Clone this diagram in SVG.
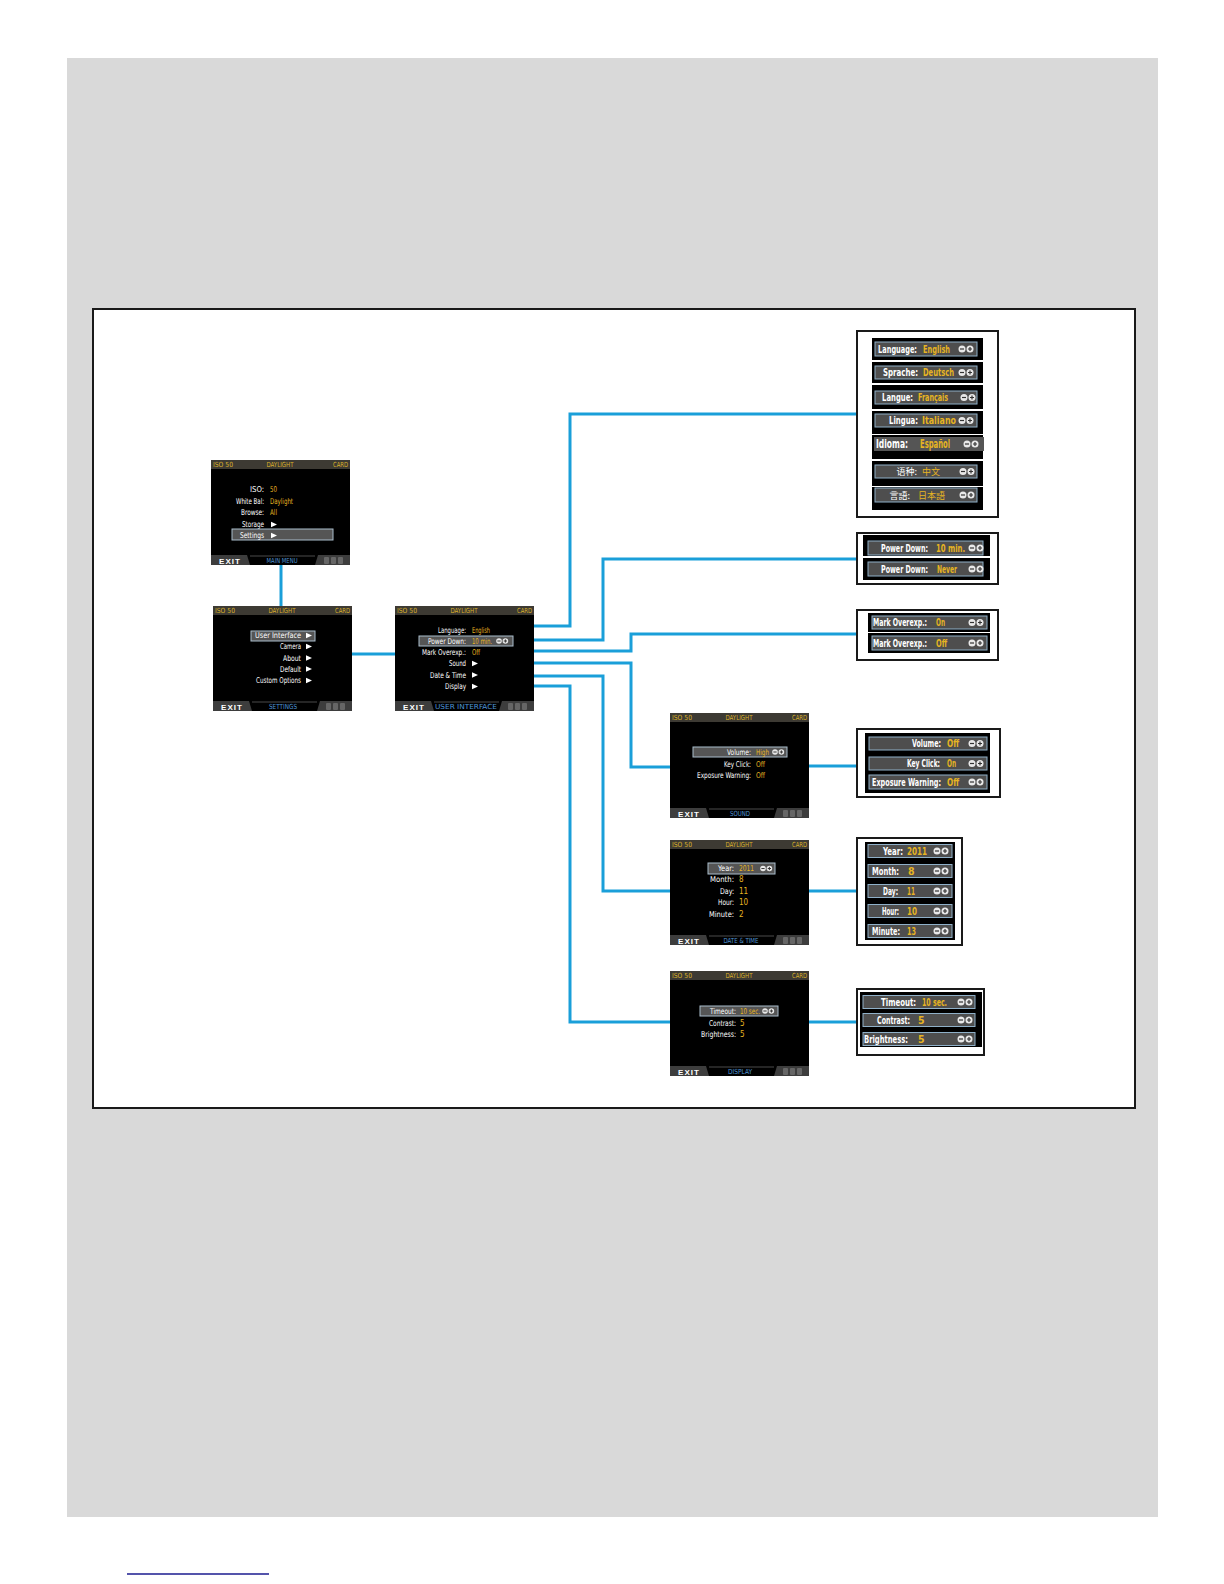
<svg xmlns="http://www.w3.org/2000/svg" xmlns:xlink="http://www.w3.org/1999/xlink" width="1224" height="1584" viewBox="0 0 1224 1584">
<style>
text{font-family:"Liberation Sans Narrow","DejaVu Sans Condensed","Liberation Sans",sans-serif;font-stretch:condensed}
.hd{font-size:7px;fill:#d9b12a}
.hm{text-anchor:middle}
.he{text-anchor:end}
.lb{font-size:8px;fill:#fff;text-anchor:end}
.vl{font-size:8px;fill:#e6b422}
.ft{font-size:7px;fill:#4f95d6;text-anchor:middle}
.ex{font-family:"Liberation Sans",sans-serif;font-stretch:normal;font-size:8px;font-weight:bold;fill:#fff;text-anchor:middle;letter-spacing:1px}
.hl{fill:#555;stroke:#aabdcc;stroke-width:1}
.pl{font-size:10.5px;fill:#fff;text-anchor:end;font-weight:bold}
.pv{font-size:10.5px;fill:#e6b422;font-weight:bold}
.cjk{font-family:"Noto Sans CJK SC","Noto Sans CJK JP",sans-serif;font-size:9px;font-weight:normal}
.jp{font-family:"Noto Sans CJK JP","Noto Sans CJK SC",sans-serif;font-size:9px;font-weight:normal}
.box{fill:#fff;stroke:#1a1a1a;stroke-width:2}
.band{fill:#000}
.bar{fill:#4e4e4e;stroke:#8fb0c8;stroke-width:1}
.conn{fill:none;stroke:#1a9fd9;stroke-width:3}
</style>
<defs>
<g id="chrome">
<rect width="139" height="105" fill="#000"/>
<rect width="139" height="9" fill="#3d3a33"/>
<path d="M0,95 H36 L39,105 H0 Z" fill="#3d3d3d"/>
<path d="M39,96 H104" stroke="#4a4a4a" stroke-width="1"/>
<path d="M104,105 L107,95 H139 V105 Z" fill="#3d3d3d"/>
<rect x="113" y="97" width="5" height="7" rx="1" fill="#666"/>
<rect x="120" y="97" width="5" height="7" rx="1" fill="#666"/>
<rect x="127" y="97" width="5" height="7" rx="1" fill="#666"/>
</g>
<g id="pm">
<circle cx="0" cy="0" r="3.5" fill="#e8e8e8"/>
<path d="M-2,0 H2" stroke="#333" stroke-width="1.2"/>
<circle cx="8" cy="0" r="3.5" fill="#e8e8e8"/>
<path d="M6,0 H10 M8,-2 V2" stroke="#333" stroke-width="1.2"/>
</g>
<path id="ar" d="M0,-2.8 L6,0 L0,2.8 Z" fill="#fff"/>
</defs>

<rect x="67" y="58" width="1091" height="1459" fill="#d9d9d9"/>
<rect x="93" y="309" width="1042" height="799" fill="#fff" stroke="#1a1a1a" stroke-width="2"/>
<line x1="127" y1="1574" x2="269" y2="1574" stroke="#1b1b8f" stroke-width="1.5"/>

<g id="connectors">
<path class="conn" d="M281,565 V606"/>
<path class="conn" d="M351,654 H395"/>
<path class="conn" d="M534,626 H570 V414 H857"/>
<path class="conn" d="M534,640 H603 V559 H857"/>
<path class="conn" d="M534,651 H631 V634 H857"/>
<path class="conn" d="M534,663 H631 V767 H670"/>
<path class="conn" d="M534,676 H603 V891 H670"/>
<path class="conn" d="M534,686 H570 V1022 H670"/>
<path class="conn" d="M803,766 H857"/>
<path class="conn" d="M803,891 H857"/>
<path class="conn" d="M803,1022 H857"/>
</g>

<g id="main-menu" transform="translate(211,460)">
<use href="#chrome"/>
<text class="hd" x="2" y="7.2" textLength="20" lengthAdjust="spacingAndGlyphs">ISO 50</text><text class="hd hm" x="69" y="7.2" textLength="27" lengthAdjust="spacingAndGlyphs">DAYLIGHT</text><text class="hd he" x="137" y="7.2" textLength="15" lengthAdjust="spacingAndGlyphs">CARD</text>
<text class="lb" transform="translate(53,32) scale(.75,1)" textLength="18.7" lengthAdjust="spacingAndGlyphs">ISO:</text><text class="vl" transform="translate(59,32) scale(.75,1)" textLength="9.3" lengthAdjust="spacingAndGlyphs">50</text>
<text class="lb" transform="translate(53,44) scale(.75,1)" textLength="37.3" lengthAdjust="spacingAndGlyphs">White Bal:</text><text class="vl" transform="translate(59,44) scale(.75,1)" textLength="30.7" lengthAdjust="spacingAndGlyphs">Daylight</text>
<text class="lb" transform="translate(53,55) scale(.75,1)" textLength="30.7" lengthAdjust="spacingAndGlyphs">Browse:</text><text class="vl" transform="translate(59,55) scale(.75,1)" textLength="9.3" lengthAdjust="spacingAndGlyphs">All</text>
<text class="lb" transform="translate(53,67) scale(.75,1)" textLength="29.3" lengthAdjust="spacingAndGlyphs">Storage</text><use href="#ar" x="60" y="64.5"/>
<rect class="hl" x="21" y="69" width="101" height="11"/>
<text class="lb" transform="translate(53,78) scale(.75,1)" textLength="32" lengthAdjust="spacingAndGlyphs">Settings</text><use href="#ar" x="60" y="75.5"/>
<text class="ex" x="19" y="103.5">EXIT</text><text class="ft" x="71" y="103" textLength="31" lengthAdjust="spacingAndGlyphs">MAIN MENU</text>
</g>

<g id="settings" transform="translate(213,606)">
<use href="#chrome"/>
<text class="hd" x="2" y="7.2" textLength="20" lengthAdjust="spacingAndGlyphs">ISO 50</text><text class="hd hm" x="69" y="7.2" textLength="27" lengthAdjust="spacingAndGlyphs">DAYLIGHT</text><text class="hd he" x="137" y="7.2" textLength="15" lengthAdjust="spacingAndGlyphs">CARD</text>
<rect class="hl" x="38" y="25" width="64" height="10"/>
<text class="lb" transform="translate(88,32) scale(.75,1)" textLength="61.3" lengthAdjust="spacingAndGlyphs">User Interface</text><use href="#ar" x="93" y="29.5"/>
<text class="lb" transform="translate(88,43) scale(.75,1)" textLength="28" lengthAdjust="spacingAndGlyphs">Camera</text><use href="#ar" x="93" y="40.5"/>
<text class="lb" transform="translate(88,54.5) scale(.75,1)" textLength="24" lengthAdjust="spacingAndGlyphs">About</text><use href="#ar" x="93" y="52"/>
<text class="lb" transform="translate(88,65.5) scale(.75,1)" textLength="28" lengthAdjust="spacingAndGlyphs">Default</text><use href="#ar" x="93" y="63"/>
<text class="lb" transform="translate(88,77) scale(.75,1)" textLength="60" lengthAdjust="spacingAndGlyphs">Custom Options</text><use href="#ar" x="93" y="74.5"/>
<text class="ex" x="19" y="103.5">EXIT</text><text class="ft" x="70" y="103" textLength="28" lengthAdjust="spacingAndGlyphs">SETTINGS</text>
</g>

<g id="user-interface" transform="translate(395,606)">
<use href="#chrome"/>
<text class="hd" x="2" y="7.2" textLength="20" lengthAdjust="spacingAndGlyphs">ISO 50</text><text class="hd hm" x="69" y="7.2" textLength="27" lengthAdjust="spacingAndGlyphs">DAYLIGHT</text><text class="hd he" x="137" y="7.2" textLength="15" lengthAdjust="spacingAndGlyphs">CARD</text>
<text class="lb" transform="translate(71,27) scale(.75,1)" textLength="37.3" lengthAdjust="spacingAndGlyphs">Language:</text><text class="vl" transform="translate(77,27) scale(.75,1)" textLength="24" lengthAdjust="spacingAndGlyphs">English</text>
<rect class="hl" x="24" y="30" width="94" height="10"/>
<text class="lb" transform="translate(71,38) scale(.75,1)" textLength="50.7" lengthAdjust="spacingAndGlyphs">Power Down:</text><text class="vl" transform="translate(77,38) scale(.75,1)" textLength="26.7" lengthAdjust="spacingAndGlyphs">10 min.</text>
<use href="#pm" transform="translate(104,35) scale(0.8)"/>
<text class="lb" transform="translate(71,49) scale(.75,1)" textLength="58.7" lengthAdjust="spacingAndGlyphs">Mark Overexp.:</text><text class="vl" transform="translate(77,49) scale(.75,1)" textLength="10.7" lengthAdjust="spacingAndGlyphs">Off</text>
<text class="lb" transform="translate(71,60) scale(.75,1)" textLength="22.7" lengthAdjust="spacingAndGlyphs">Sound</text><use href="#ar" x="77" y="57.5"/>
<text class="lb" transform="translate(71,71.5) scale(.75,1)" textLength="48" lengthAdjust="spacingAndGlyphs">Date &amp; Time</text><use href="#ar" x="77" y="69"/>
<text class="lb" transform="translate(71,83) scale(.75,1)" textLength="28" lengthAdjust="spacingAndGlyphs">Display</text><use href="#ar" x="77" y="80.5"/>
<text class="ex" x="19" y="103.5">EXIT</text><text class="ft" x="71" y="103" textLength="62" lengthAdjust="spacingAndGlyphs">USER INTERFACE</text>
</g>

<g id="sound" transform="translate(670,713)">
<use href="#chrome"/>
<text class="hd" x="2" y="7.2" textLength="20" lengthAdjust="spacingAndGlyphs">ISO 50</text><text class="hd hm" x="69" y="7.2" textLength="27" lengthAdjust="spacingAndGlyphs">DAYLIGHT</text><text class="hd he" x="137" y="7.2" textLength="15" lengthAdjust="spacingAndGlyphs">CARD</text>
<rect class="hl" x="23" y="34" width="94" height="10"/>
<text class="lb" transform="translate(81,42) scale(.75,1)" textLength="32" lengthAdjust="spacingAndGlyphs">Volume:</text><text class="vl" transform="translate(86,42) scale(.75,1)" textLength="17.3" lengthAdjust="spacingAndGlyphs">High</text>
<use href="#pm" transform="translate(105,39) scale(0.8)"/>
<text class="lb" transform="translate(81,54) scale(.75,1)" textLength="36" lengthAdjust="spacingAndGlyphs">Key Click:</text><text class="vl" transform="translate(86,54) scale(.75,1)" textLength="12" lengthAdjust="spacingAndGlyphs">Off</text>
<text class="lb" transform="translate(81,65) scale(.75,1)" textLength="72" lengthAdjust="spacingAndGlyphs">Exposure Warning:</text><text class="vl" transform="translate(86,65) scale(.75,1)" textLength="12" lengthAdjust="spacingAndGlyphs">Off</text>
<text class="ex" x="19" y="103.5">EXIT</text><text class="ft" x="70" y="103" textLength="20" lengthAdjust="spacingAndGlyphs">SOUND</text>
</g>

<g id="date-time" transform="translate(670,840)">
<use href="#chrome"/>
<text class="hd" x="2" y="7.2" textLength="20" lengthAdjust="spacingAndGlyphs">ISO 50</text><text class="hd hm" x="69" y="7.2" textLength="27" lengthAdjust="spacingAndGlyphs">DAYLIGHT</text><text class="hd he" x="137" y="7.2" textLength="15" lengthAdjust="spacingAndGlyphs">CARD</text>
<rect class="hl" x="38" y="23" width="67" height="11"/>
<text class="lb" transform="translate(64,31) scale(.75,1)" textLength="21.3" lengthAdjust="spacingAndGlyphs">Year:</text><text class="vl" transform="translate(69,31) scale(.75,1)" textLength="20" lengthAdjust="spacingAndGlyphs">2011</text>
<use href="#pm" transform="translate(93,28.5) scale(0.8)"/>
<text class="lb" transform="translate(64,42) scale(.75,1)" textLength="32" lengthAdjust="spacingAndGlyphs">Month:</text><text class="vl" x="69" y="42">8</text>
<text class="lb" transform="translate(64,54) scale(.75,1)" textLength="18.7" lengthAdjust="spacingAndGlyphs">Day:</text><text class="vl" x="69" y="54">11</text>
<text class="lb" transform="translate(64,65) scale(.75,1)" textLength="21.3" lengthAdjust="spacingAndGlyphs">Hour:</text><text class="vl" x="69" y="65">10</text>
<text class="lb" transform="translate(64,77) scale(.75,1)" textLength="33.3" lengthAdjust="spacingAndGlyphs">Minute:</text><text class="vl" x="69" y="77">2</text>
<text class="ex" x="19" y="103.5">EXIT</text><text class="ft" x="71" y="103" textLength="35" lengthAdjust="spacingAndGlyphs">DATE &amp; TIME</text>
</g>

<g id="display" transform="translate(670,971)">
<use href="#chrome"/>
<text class="hd" x="2" y="7.2" textLength="20" lengthAdjust="spacingAndGlyphs">ISO 50</text><text class="hd hm" x="69" y="7.2" textLength="27" lengthAdjust="spacingAndGlyphs">DAYLIGHT</text><text class="hd he" x="137" y="7.2" textLength="15" lengthAdjust="spacingAndGlyphs">CARD</text>
<rect class="hl" x="30" y="35" width="78" height="10"/>
<text class="lb" transform="translate(66,43) scale(.75,1)" textLength="34.7" lengthAdjust="spacingAndGlyphs">Timeout:</text><text class="vl" transform="translate(70,43) scale(.75,1)" textLength="26.7" lengthAdjust="spacingAndGlyphs">10 sec.</text>
<use href="#pm" transform="translate(95,40) scale(0.8)"/>
<text class="lb" transform="translate(66,55) scale(.75,1)" textLength="36" lengthAdjust="spacingAndGlyphs">Contrast:</text><text class="vl" x="70" y="55">5</text>
<text class="lb" transform="translate(66,66) scale(.75,1)" textLength="46.7" lengthAdjust="spacingAndGlyphs">Brightness:</text><text class="vl" x="70" y="66">5</text>
<text class="ex" x="19" y="103.5">EXIT</text><text class="ft" x="70" y="103" textLength="24" lengthAdjust="spacingAndGlyphs">DISPLAY</text>
</g>

<g id="language-panel">
<rect class="box" x="857" y="331" width="141" height="186"/>
<rect class="band" x="872" y="338" width="111" height="22"/>
<rect class="bar" x="875" y="342" width="102" height="14"/>
<text class="pl" transform="translate(917,352.5) scale(.72,1)" textLength="54" lengthAdjust="spacingAndGlyphs">Language:</text><text class="pv" transform="translate(923,352.5) scale(.72,1)" textLength="37.5" lengthAdjust="spacingAndGlyphs">English</text>
<use href="#pm" x="962" y="349"/>
<rect class="band" x="872" y="362" width="111" height="21"/>
<rect class="bar" x="875" y="366" width="102" height="13"/>
<text class="pl" transform="translate(918,376) scale(.72,1)" textLength="48.6" lengthAdjust="spacingAndGlyphs">Sprache:</text><text class="pv" transform="translate(923,376) scale(.72,1)" textLength="43" lengthAdjust="spacingAndGlyphs">Deutsch</text>
<use href="#pm" x="962" y="372.5"/>
<rect class="band" x="872" y="385" width="111" height="24"/>
<rect class="bar" x="875" y="391" width="102" height="13"/>
<text class="pl" transform="translate(913,401) scale(.72,1)" textLength="43" lengthAdjust="spacingAndGlyphs">Langue:</text><text class="pv" transform="translate(918,401) scale(.72,1)" textLength="41.7" lengthAdjust="spacingAndGlyphs">Français</text>
<use href="#pm" x="964" y="397.5"/>
<rect class="band" x="872" y="411" width="111" height="23"/>
<rect class="bar" x="875" y="414" width="102" height="13"/>
<text class="pl" transform="translate(918,424) scale(.72,1)" textLength="40.3" lengthAdjust="spacingAndGlyphs">Lingua:</text><text class="pv" transform="translate(922,424) scale(.72,1)" textLength="47.2" lengthAdjust="spacingAndGlyphs">Italiano</text>
<use href="#pm" x="962" y="420.5"/>
<rect class="band" x="872" y="435" width="111" height="24"/>
<rect x="874" y="437" width="110" height="14" fill="#555"/>
<text class="pl" style="font-size:11.5px" transform="translate(908,448) scale(.72,1)" textLength="44.4" lengthAdjust="spacingAndGlyphs">Idioma:</text><text class="pv" style="font-size:11.5px" transform="translate(920,448) scale(.72,1)" textLength="41.7" lengthAdjust="spacingAndGlyphs">Español</text>
<use href="#pm" x="967" y="444"/>
<rect class="band" x="872" y="461" width="111" height="25"/>
<rect class="bar" x="875" y="465" width="102" height="13"/>
<text class="pl cjk" x="917" y="475">语种:</text><text class="pv cjk" x="922" y="475">中文</text>
<use href="#pm" x="963" y="471.5"/>
<rect class="band" x="872" y="487" width="111" height="23"/>
<rect class="bar" x="875" y="488" width="102" height="14"/>
<text class="pl jp" x="910" y="498.5">言語:</text><text class="pv jp" x="918" y="498.5">日本語</text>
<use href="#pm" x="963" y="495"/>
</g>

<g id="power-down-panel">
<rect class="box" x="857" y="533" width="141" height="51"/>
<rect class="band" x="863" y="535" width="127" height="21"/>
<rect class="bar" x="868" y="541" width="115" height="14"/>
<text class="pl" transform="translate(928,551.5) scale(.72,1)" textLength="65.3" lengthAdjust="spacingAndGlyphs">Power Down:</text><text class="pv" transform="translate(936,551.5) scale(.72,1)" textLength="40.3" lengthAdjust="spacingAndGlyphs">10 min.</text>
<use href="#pm" x="972" y="548"/>
<rect class="band" x="863" y="558" width="127" height="22"/>
<rect class="bar" x="868" y="562" width="115" height="14"/>
<text class="pl" transform="translate(928,572.5) scale(.72,1)" textLength="65.3" lengthAdjust="spacingAndGlyphs">Power Down:</text><text class="pv" transform="translate(937,572.5) scale(.72,1)" textLength="27.8" lengthAdjust="spacingAndGlyphs">Never</text>
<use href="#pm" x="972" y="569"/>
</g>

<g id="mark-overexp-panel">
<rect class="box" x="857" y="610" width="141" height="50"/>
<rect class="band" x="868" y="613" width="122" height="19"/>
<rect class="bar" x="872" y="616" width="115" height="13"/>
<text class="pl" transform="translate(927,626) scale(.72,1)" textLength="75" lengthAdjust="spacingAndGlyphs">Mark Overexp.:</text><text class="pv" transform="translate(936,626) scale(.72,1)" textLength="12.5" lengthAdjust="spacingAndGlyphs">On</text>
<use href="#pm" x="972" y="622.5"/>
<rect class="band" x="868" y="633" width="122" height="20"/>
<rect class="bar" x="872" y="636" width="115" height="14"/>
<text class="pl" transform="translate(927,646.5) scale(.72,1)" textLength="75" lengthAdjust="spacingAndGlyphs">Mark Overexp.:</text><text class="pv" transform="translate(936,646.5) scale(.72,1)" textLength="15.3" lengthAdjust="spacingAndGlyphs">Off</text>
<use href="#pm" x="972" y="643"/>
</g>

<g id="sound-panel">
<rect class="box" x="857" y="729" width="143" height="68"/>
<rect class="band" x="865" y="733" width="125" height="60"/>
<rect class="bar" x="869" y="737" width="118" height="13"/>
<text class="pl" transform="translate(941,747) scale(.72,1)" textLength="40.3" lengthAdjust="spacingAndGlyphs">Volume:</text><text class="pv" transform="translate(947,747) scale(.72,1)" textLength="16.7" lengthAdjust="spacingAndGlyphs">Off</text>
<use href="#pm" x="972" y="743.5"/>
<rect class="bar" x="869" y="757" width="118" height="13"/>
<text class="pl" transform="translate(940,767) scale(.72,1)" textLength="45.8" lengthAdjust="spacingAndGlyphs">Key Click:</text><text class="pv" transform="translate(947,767) scale(.72,1)" textLength="12.5" lengthAdjust="spacingAndGlyphs">On</text>
<use href="#pm" x="972" y="763.5"/>
<rect class="bar" x="869" y="775" width="118" height="14"/>
<text class="pl" transform="translate(941,785.5) scale(.72,1)" textLength="95.8" lengthAdjust="spacingAndGlyphs">Exposure Warning:</text><text class="pv" transform="translate(947,785.5) scale(.72,1)" textLength="16.7" lengthAdjust="spacingAndGlyphs">Off</text>
<use href="#pm" x="972" y="782"/>
</g>

<g id="date-time-panel">
<rect class="box" x="857" y="838" width="105" height="107"/>
<rect class="band" x="865" y="842" width="90" height="98"/>
<rect class="bar" x="868" y="844.5" width="84" height="13"/>
<text class="pl" transform="translate(903,854.5) scale(.72,1)" textLength="27.8" lengthAdjust="spacingAndGlyphs">Year:</text><text class="pv" transform="translate(907,854.5) scale(.72,1)" textLength="27.8" lengthAdjust="spacingAndGlyphs">2011</text>
<use href="#pm" x="937" y="851"/>
<rect class="bar" x="868" y="864.5" width="84" height="13"/>
<text class="pl" transform="translate(899,874.5) scale(.72,1)" textLength="37.5" lengthAdjust="spacingAndGlyphs">Month:</text><text class="pv" x="908" y="874.5">8</text>
<use href="#pm" x="937" y="871"/>
<rect class="bar" x="868" y="884.5" width="84" height="13"/>
<text class="pl" transform="translate(898,894.5) scale(.72,1)" textLength="20.8" lengthAdjust="spacingAndGlyphs">Day:</text><text class="pv" transform="translate(907,894.5) scale(.72,1)" textLength="11.1" lengthAdjust="spacingAndGlyphs">11</text>
<use href="#pm" x="937" y="891"/>
<rect class="bar" x="868" y="904.5" width="84" height="13"/>
<text class="pl" transform="translate(899,914.5) scale(.72,1)" textLength="23.6" lengthAdjust="spacingAndGlyphs">Hour:</text><text class="pv" transform="translate(907,914.5) scale(.72,1)" textLength="13.9" lengthAdjust="spacingAndGlyphs">10</text>
<use href="#pm" x="937" y="911"/>
<rect class="bar" x="868" y="924.5" width="84" height="13"/>
<text class="pl" transform="translate(900,934.5) scale(.72,1)" textLength="38.9" lengthAdjust="spacingAndGlyphs">Minute:</text><text class="pv" transform="translate(907,934.5) scale(.72,1)" textLength="12.5" lengthAdjust="spacingAndGlyphs">13</text>
<use href="#pm" x="937" y="931"/>
</g>

<g id="display-panel">
<rect class="box" x="857" y="989" width="127" height="66"/>
<rect class="band" x="860" y="992" width="122" height="55"/>
<rect class="bar" x="863" y="995.5" width="112" height="13"/>
<text class="pl" transform="translate(916,1005.5) scale(.72,1)" textLength="48.6" lengthAdjust="spacingAndGlyphs">Timeout:</text><text class="pv" transform="translate(922,1005.5) scale(.72,1)" textLength="34.7" lengthAdjust="spacingAndGlyphs">10 sec.</text>
<use href="#pm" x="961" y="1002"/>
<rect class="bar" x="863" y="1013.5" width="112" height="13"/>
<text class="pl" transform="translate(910,1023.5) scale(.72,1)" textLength="45.8" lengthAdjust="spacingAndGlyphs">Contrast:</text><text class="pv" x="918" y="1023.5">5</text>
<use href="#pm" x="961" y="1020"/>
<rect class="bar" x="863" y="1032.5" width="112" height="13"/>
<text class="pl" transform="translate(908,1042.5) scale(.72,1)" textLength="61.1" lengthAdjust="spacingAndGlyphs">Brightness:</text><text class="pv" x="918" y="1042.5">5</text>
<use href="#pm" x="961" y="1039"/>
</g>
</svg>
